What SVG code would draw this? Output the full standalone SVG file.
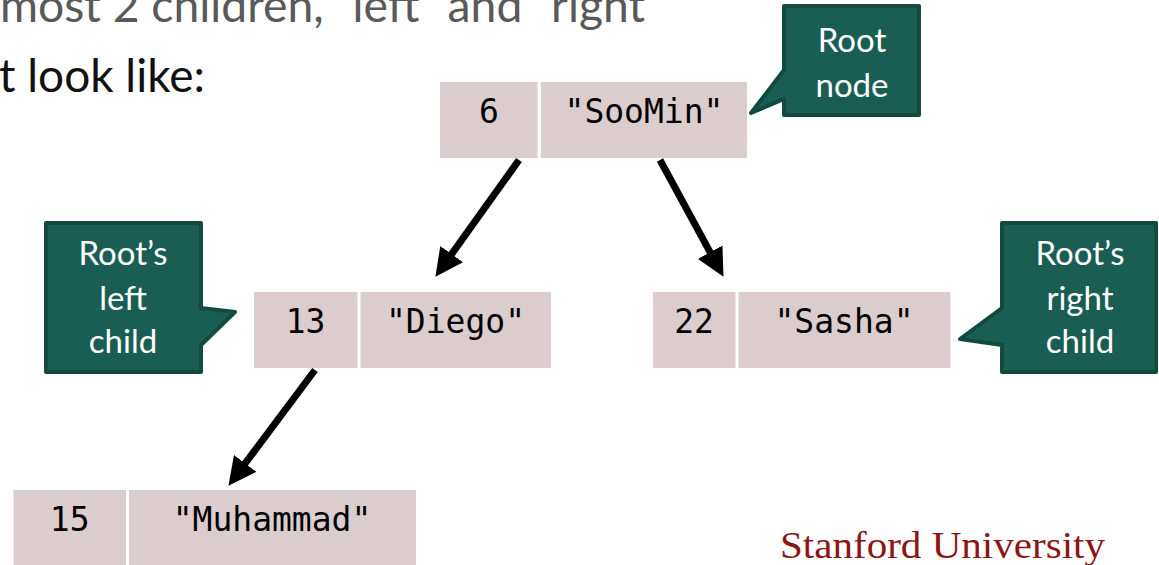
<svg xmlns="http://www.w3.org/2000/svg" width="1159" height="565" viewBox="0 0 1159 565">
  <style>
    .cell { fill: #dbcdcd; }
    .key, .val { font-family: "DejaVu Sans Mono", "Liberation Mono", monospace; font-size: 33px; fill: #000; text-anchor: middle; }
    .callout { fill: #1a5e53; stroke: #124a40; stroke-width: 4; stroke-linejoin: round; }
    .ctext { font-family: Lato, "Open Sans", sans-serif; font-size: 33px; fill: #ffffff; text-anchor: middle; }
    .edge { stroke: #000; stroke-width: 7; fill: none; marker-end: url(#head); }
    .slide { font-family: Lato, "Open Sans", sans-serif; font-size: 46px; }
  </style>
  <defs>
    <marker id="head" markerUnits="userSpaceOnUse" viewBox="0 0 28 28" markerWidth="28" markerHeight="28" refX="1" refY="14" orient="auto">
      <path d="M0,0 L28,14 L0,28 Z" fill="#000"/>
    </marker>
  </defs>

  <rect width="1159" height="565" fill="#ffffff"/>

  <!-- slide body text, cropped at the edges -->
  <text class="slide" x="0" y="22" fill="#595959" textLength="662" lengthAdjust="spacingAndGlyphs">most 2 children, “left” and “right”</text>
  <text class="slide" x="-1" y="92" fill="#111111" textLength="206" lengthAdjust="spacingAndGlyphs">t look like:</text>

  <!-- tree edges -->
  <g id="connectors">
    <path class="edge" d="M519,160 L451.1,254.9"/>
    <path class="edge" d="M660,160 L710.6,253.1"/>
    <path class="edge" d="M315,370 L244.6,464.2"/>
  </g>

  <!-- tree nodes: key cell + value cell -->
  <g id="node-6">
    <rect class="cell" x="440" y="82" width="97.5" height="76"/>
    <rect class="cell" x="541" y="82" width="206" height="76"/>
    <text class="key" x="489" y="123">6</text>
    <text class="val" x="644" y="123">"SooMin"</text>
  </g>
  <g id="node-13">
    <rect class="cell" x="254" y="292" width="103.5" height="76"/>
    <rect class="cell" x="360.5" y="292" width="190.5" height="76"/>
    <text class="key" x="305.5" y="333">13</text>
    <text class="val" x="455.5" y="333">"Diego"</text>
  </g>
  <g id="node-22">
    <rect class="cell" x="653" y="292" width="82.5" height="76"/>
    <rect class="cell" x="738.5" y="292" width="212" height="76"/>
    <text class="key" x="694" y="333">22</text>
    <text class="val" x="844" y="333">"Sasha"</text>
  </g>
  <g id="node-15">
    <rect class="cell" x="13.5" y="490" width="112.5" height="80"/>
    <rect class="cell" x="129" y="490" width="287" height="80"/>
    <text class="key" x="69.7" y="531">15</text>
    <text class="val" x="272" y="531">"Muhammad"</text>
  </g>

  <!-- callout labels -->
  <g id="callout-root">
    <path class="callout" d="M784,6 H919 V115 H784 V99 L751,113 L784,70 Z"/>
    <text class="ctext" x="852" y="52">Root</text>
    <text class="ctext" x="852" y="97">node</text>
  </g>
  <g id="callout-left">
    <path class="callout" d="M46,223 H201 V308 L235,312 L201,345 V372 H46 Z"/>
    <text class="ctext" x="123" y="265">Root’s</text>
    <text class="ctext" x="123" y="310">left</text>
    <text class="ctext" x="123" y="353">child</text>
  </g>
  <g id="callout-right">
    <path class="callout" d="M1002,223 H1156 V372 H1002 V345 L960,339 L1002,308 Z"/>
    <text class="ctext" x="1080" y="265">Root’s</text>
    <text class="ctext" x="1080" y="310">right</text>
    <text class="ctext" x="1080" y="353">child</text>
  </g>

  <!-- footer wordmark -->
  <text x="780" y="558" font-family="'Liberation Serif', serif" font-size="37" fill="#8c1515" textLength="325" lengthAdjust="spacingAndGlyphs">Stanford University</text>
</svg>
